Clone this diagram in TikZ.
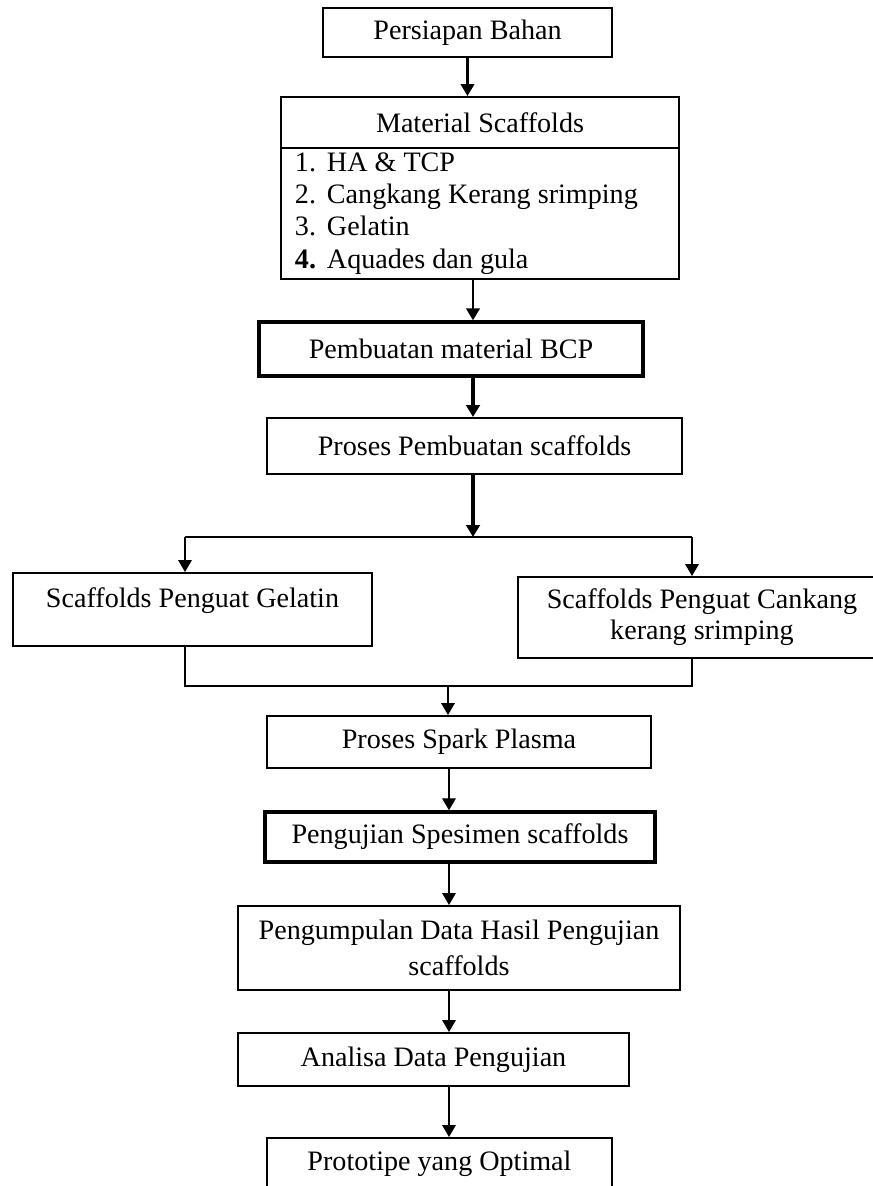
\documentclass[tikz,border=0pt]{standalone}
\usepackage{fontspec}
\setmainfont{Liberation Serif}
\usetikzlibrary{arrows.meta}

\begin{document}
\begin{tikzpicture}[
  x=0.025cm, y=-0.025cm,
  box/.style={draw, line width=1.4pt, align=center, inner sep=0pt, font=\fontsize{20}{24}\selectfont},
  boldbox/.style={box, line width=2.4pt},
  link/.style={line width=0.9pt},
  arrow/.style={-{Triangle[length=3mm,width=3.4mm]}, line width=0.9pt},
  thickarr/.style={arrow, line width=2.2pt}
]
  \useasboundingbox (0,0) rectangle (873,1186);
  \clip (0,0) rectangle (873,1186);

  \node[box, minimum width=7.225cm, minimum height=1.225cm] (prep) at (467.5,32.5) {Persiapan Bahan};
  \node[box, minimum width=9.95cm, minimum height=1.275cm] (title) at (480,122.5) {Material Scaffolds};
  \node[box, minimum width=9.95cm, minimum height=3.275cm, text width=9.25cm, align=flush left, font=\fontsize{20}{23}\selectfont] (list) at (480,213.5)
    {\makebox[0.8cm][l]{1.}HA \& TCP\\
     \makebox[0.8cm][l]{2.}Cangkang Kerang srimping\\
     \makebox[0.8cm][l]{3.}Gelatin\\
     \makebox[0.8cm][l]{\textbf{4.}}Aquades dan gula};
  \node[boldbox, minimum width=9.6cm, minimum height=1.35cm] (bcp) at (451,349) {Pembuatan material BCP};
  \node[box, minimum width=10.375cm, minimum height=1.4cm] (proses) at (474.5,446) {Proses Pembuatan scaffolds};
  \node[box, minimum width=8.975cm, minimum height=1.825cm, text depth=0.6cm] (gelatin) at (192.5,609.5) {Scaffolds Penguat Gelatin};
  \node[box, minimum width=9.2cm, minimum height=2.025cm, font=\fontsize{20}{22}\selectfont] (cankang) at (702,617.5) {Scaffolds Penguat Cankang\\kerang srimping};
  \node[box, minimum width=9.6cm, minimum height=1.3cm] (spark) at (459,742) {Proses Spark Plasma};
  \node[boldbox, minimum width=9.75cm, minimum height=1.25cm] (uji) at (460,837) {Pengujian Spesimen scaffolds};
  \node[box, minimum width=11.05cm, minimum height=2.1cm, font=\fontsize{20}{25.5}\selectfont] (kumpul) at (459,948) {Pengumpulan Data Hasil Pengujian\\scaffolds};
  \node[box, minimum width=9.775cm, minimum height=1.325cm] (analisa) at (433.5,1059.5) {Analisa Data Pengujian};
  \node[box, minimum width=8.625cm, minimum height=1.3cm] (proto) at (439.5,1164) {Prototipe yang Optimal};

  \coordinate (trunk) at (473,0);
  \coordinate (split) at (473,537);
  \coordinate (splitL) at (185,537);
  \coordinate (splitR) at (692,537);
  \coordinate (mergeL) at (185,686);
  \coordinate (mergeR) at (692,686);
  \coordinate (merge) at (448,686);
  \coordinate (stem) at (449,0);

  \draw[arrow, line width=1.6pt] (prep.south) -- (prep.south |- title.north);
  \draw[arrow, line width=1.8pt] (list.south -| trunk) -- (bcp.north -| trunk);
  \draw[thickarr] (bcp.south -| trunk) -- (proses.north -| trunk);
  \draw[thickarr] (proses.south -| trunk) -- (split);

  \draw[link] (splitL) -- (splitR);
  \draw[arrow] (splitL) -- (gelatin.north -| splitL);
  \draw[arrow] (splitR) -- (cankang.north -| splitR);

  \draw[link] (gelatin.south -| mergeL) -- (mergeL) -- (mergeR) -- (cankang.south -| mergeR);
  \draw[arrow] (merge) -- (spark.north -| merge);

  \draw[arrow] (spark.south -| stem) -- (uji.north -| stem);
  \draw[arrow] (uji.south -| stem) -- (kumpul.north -| stem);
  \draw[arrow] (kumpul.south -| stem) -- (analisa.north -| stem);
  \draw[arrow] (analisa.south -| stem) -- (proto.north -| stem);
\end{tikzpicture}
\end{document}
